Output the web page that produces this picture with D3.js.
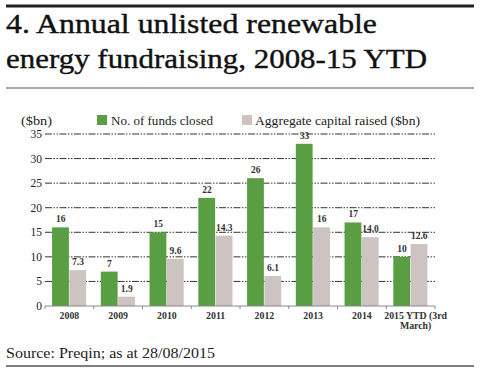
<!DOCTYPE html>
<html>
<head>
<meta charset="utf-8">
<script src="https://cdn.jsdelivr.net/npm/d3@7"></script>
<style>
  body { margin: 0; background: #fff; }
  svg { display: block; }
</style>
</head>
<body>
<svg width="480" height="372"></svg>
<script>
// data
const years = ["2008", "2009", "2010", "2011", "2012", "2013", "2014", "2015 YTD (3rd March)"];
const fundsClosed = [16, 7, 15, 22, 26, 33, 17, 10];
const capitalRaised = [7.3, 1.9, 9.6, 14.3, 6.1, 16, 14.0, 12.6];
const capitalLabels = ["7.3", "1.9", "9.6", "14.3", "6.1", "16", "14.0", "12.6"];
const yTicks = [0, 5, 10, 15, 20, 25, 30, 35];

const green = "#5a9e44";
const grey = "#cdc4c1";
const serif = "'Liberation Serif', 'DejaVu Serif', serif";

const svg = d3.select("svg");

// title block
svg.append("line")
  .attr("x1", 6).attr("x2", 474).attr("y1", 6).attr("y2", 6)
  .attr("stroke", "#222").attr("stroke-width", 3);
svg.append("text")
  .attr("x", 6).attr("y", 33)
  .attr("font-family", serif).attr("font-size", 28).attr("fill", "#111")
  .attr("stroke", "#111").attr("stroke-width", 0.4)
  .attr("textLength", 371).attr("lengthAdjust", "spacingAndGlyphs")
  .text("4. Annual unlisted renewable");
svg.append("text")
  .attr("x", 6).attr("y", 68)
  .attr("font-family", serif).attr("font-size", 28).attr("fill", "#111")
  .attr("stroke", "#111").attr("stroke-width", 0.4)
  .attr("textLength", 421).attr("lengthAdjust", "spacingAndGlyphs")
  .text("energy fundraising, 2008-15 YTD");
svg.append("line")
  .attr("x1", 6).attr("x2", 474).attr("y1", 88).attr("y2", 88)
  .attr("stroke", "#555").attr("stroke-width", 1);

// chart area
const margin = { top: 134, left: 45 };
const width = 390, height = 172;
const g = svg.append("g")
  .attr("transform", "translate(" + margin.left + "," + margin.top + ")");

const x = d3.scaleBand()
  .domain(years)
  .range([0, width])
  .paddingInner(0.29)
  .paddingOuter(0.145);

const x1 = d3.scaleBand()
  .domain(["funds", "capital"])
  .range([0, x.bandwidth()]);

const y = d3.scaleLinear()
  .domain([0, 35])
  .range([height, 0]);

// gridlines (dash-dot)
g.selectAll(".grid")
  .data(yTicks.filter(d => d > 0))
  .enter().append("line")
  .attr("class", "grid")
  .attr("x1", 0).attr("x2", width)
  .attr("y1", d => y(d)).attr("y2", d => y(d))
  .attr("stroke", "#333").attr("stroke-width", 1)
  .attr("stroke-dasharray", "7,1.5,1.5,1.5,1.5,1.5");

// y axis labels
g.selectAll(".ylab")
  .data(yTicks)
  .enter().append("text")
  .attr("x", -3).attr("y", d => y(d) + 4)
  .attr("text-anchor", "end")
  .attr("font-family", serif).attr("font-size", 11.5).attr("fill", "#222")
  .text(d => d);

// bars
const groups = g.selectAll(".year")
  .data(years)
  .enter().append("g")
  .attr("transform", d => "translate(" + x(d) + ",0)");

groups.append("rect")
  .attr("x", x1("funds"))
  .attr("y", (d, i) => y(fundsClosed[i]))
  .attr("width", x1.bandwidth() - 0.5)
  .attr("height", (d, i) => height - y(fundsClosed[i]))
  .attr("fill", green);

groups.append("rect")
  .attr("x", x1("capital"))
  .attr("y", (d, i) => y(capitalRaised[i]))
  .attr("width", x1.bandwidth() - 0.5)
  .attr("height", (d, i) => height - y(capitalRaised[i]))
  .attr("fill", grey);

// value labels
groups.append("text")
  .attr("x", x1("funds") + x1.bandwidth() / 2)
  .attr("y", (d, i) => y(fundsClosed[i]) - 5)
  .attr("text-anchor", "middle")
  .attr("font-family", serif).attr("font-size", 9.5).attr("font-weight", "bold").attr("fill", "#333")
  .text((d, i) => fundsClosed[i]);

groups.append("text")
  .attr("x", x1("capital") + x1.bandwidth() / 2)
  .attr("y", (d, i) => y(capitalRaised[i]) - 5)
  .attr("text-anchor", "middle")
  .attr("font-family", serif).attr("font-size", 9.5).attr("font-weight", "bold").attr("fill", "#333")
  .text((d, i) => capitalLabels[i]);

// x axis
const xAxis = g.append("g")
  .attr("transform", "translate(0," + height + ")");
xAxis.append("line")
  .attr("x1", 0).attr("x2", width)
  .attr("stroke", "#888").attr("stroke-width", 1);
xAxis.selectAll(".tick")
  .data(d3.range(years.length + 1))
  .enter().append("line")
  .attr("x1", d => d * x.step()).attr("x2", d => d * x.step())
  .attr("y1", 0).attr("y2", 3)
  .attr("stroke", "#888");

xAxis.selectAll(".xlab")
  .data(years)
  .enter().append("text")
  .attr("x", d => x(d) + x.bandwidth() / 2)
  .attr("y", 13)
  .attr("text-anchor", "middle")
  .attr("font-family", serif).attr("font-size", 9.8).attr("font-weight", "bold").attr("fill", "#333")
  .each(function(d) {
    const t = d3.select(this);
    const cx = x(d) + x.bandwidth() / 2 + 5;
    if (d.length > 4) {
      t.append("tspan").attr("x", cx).text("2015 YTD (3rd");
      t.append("tspan").attr("x", cx).attr("dy", 10).text("March)");
    } else {
      t.text(d);
    }
  });

// legend
svg.append("text")
  .attr("x", 21).attr("y", 125)
  .attr("font-family", serif).attr("font-size", 13).attr("fill", "#222")
  .attr("textLength", 31).attr("lengthAdjust", "spacingAndGlyphs")
  .text("($bn)");
svg.append("rect")
  .attr("x", 97).attr("y", 115).attr("width", 10).attr("height", 10)
  .attr("fill", green);
svg.append("text")
  .attr("x", 111).attr("y", 125)
  .attr("font-family", serif).attr("font-size", 13).attr("fill", "#222")
  .attr("textLength", 102).attr("lengthAdjust", "spacingAndGlyphs")
  .text("No. of funds closed");
svg.append("rect")
  .attr("x", 242).attr("y", 115).attr("width", 10).attr("height", 10)
  .attr("fill", grey);
svg.append("text")
  .attr("x", 255).attr("y", 125)
  .attr("font-family", serif).attr("font-size", 13).attr("fill", "#222")
  .attr("textLength", 165).attr("lengthAdjust", "spacingAndGlyphs")
  .text("Aggregate capital raised ($bn)");

// footer
svg.append("text")
  .attr("x", 6).attr("y", 358)
  .attr("font-family", serif).attr("font-size", 15).attr("fill", "#222")
  .attr("textLength", 209).attr("lengthAdjust", "spacingAndGlyphs")
  .text("Source: Preqin; as at 28/08/2015");
svg.append("line")
  .attr("x1", 6).attr("x2", 474).attr("y1", 366).attr("y2", 366)
  .attr("stroke", "#555").attr("stroke-width", 1.5);
</script>
</body>
</html>
